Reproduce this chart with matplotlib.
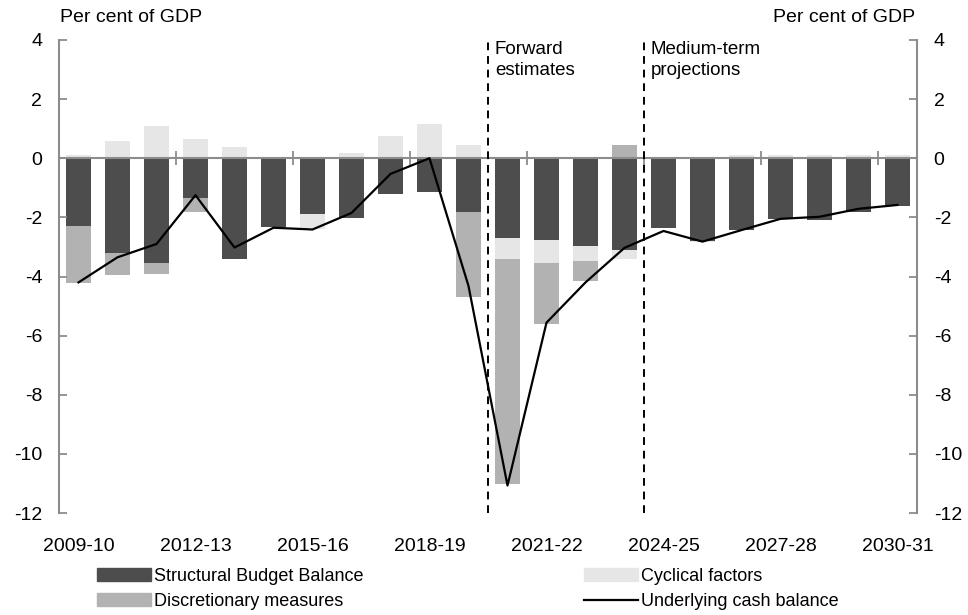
import numpy as np
import matplotlib
matplotlib.use('Agg')
import matplotlib.pyplot as plt
from matplotlib.patches import Patch
from matplotlib.lines import Line2D

plt.rcParams['font.family'] = ['Liberation Sans', 'DejaVu Sans']
plt.rcParams['axes.unicode_minus'] = False

years = ['2009-10', '2010-11', '2011-12', '2012-13', '2013-14', '2014-15', '2015-16',
         '2016-17', '2017-18', '2018-19', '2019-20', '2020-21', '2021-22', '2022-23',
         '2023-24', '2024-25', '2025-26', '2026-27', '2027-28', '2028-29', '2029-30',
         '2030-31']
structural = [-2.30, -3.20, -3.56, -1.34, -3.42, -2.31, -1.89, -2.02, -1.20, -1.14, -1.82,
              -2.70, -2.78, -2.98, -3.12, -2.35, -2.79, -2.43, -2.07, -2.09, -1.81, -1.60]
cyclical = [0.11, 0.59, 1.08, 0.66, 0.39, 0.02, -0.50, 0.19, 0.74, 1.15, 0.45,
            -0.71, -0.77, -0.50, -0.28, 0.00, -0.04, 0.10, 0.10, 0.10, 0.10, 0.10]
discretionary = [-1.93, -0.75, -0.34, -0.49, 0.0, 0.0, 0.0, 0.0, 0.0, 0.0, -2.89,
                 -7.62, -2.04, -0.68, 0.45, 0.0, 0.0, 0.0, 0.0, 0.0, 0.0, 0.0]
underlying = [-4.20, -3.35, -2.90, -1.25, -3.02, -2.35, -2.41, -1.85, -0.53, 0.00, -4.32,
              -11.07, -5.56, -4.20, -3.03, -2.46, -2.82, -2.43, -2.05, -1.98, -1.71, -1.58]

c_struct = '#4d4d4d'
c_disc = '#b2b2b2'
c_cyc = '#e6e6e6'
grey = '#8c8c8c'

fig = plt.figure(figsize=(9.68, 6.15), dpi=100)
ax = fig.add_axes([59 / 968, 1 - 513 / 615, (917 - 59) / 968, (513 - 40) / 615])

x = np.arange(len(years))
w = 0.66
pos_base = np.zeros(len(years))
neg_base = np.zeros(len(years))
# stack like Excel: positives upward, negatives downward, in series order
for vals, col in [(structural, c_struct), (cyclical, c_cyc), (discretionary, c_disc)]:
    v = np.array(vals)
    p = np.where(v > 0, v, 0)
    n = np.where(v < 0, v, 0)
    ax.bar(x, p, w, bottom=pos_base, color=col, linewidth=0, zorder=1)
    ax.bar(x, n, w, bottom=neg_base, color=col, linewidth=0, zorder=1)
    pos_base += p
    neg_base += n

ax.plot(x, underlying, color='black', lw=1.6, zorder=3)

ax.set_xlim(-0.5, len(years) - 0.5)
ax.set_ylim(-12, 4)

# phase separators
for xs in [10.5, 14.5]:
    ax.axvline(xs, color='black', lw=1.4, ls=(0, (4, 3)), zorder=4)
ax.annotate('Forward\nestimates', (10.5, 4), xytext=(5, -1), textcoords='offset points',
            ha='left', va='top', fontsize=13.5, linespacing=1.25)
ax.annotate('Medium-term\nprojections', (14.5, 4), xytext=(5, -1), textcoords='offset points',
            ha='left', va='top', fontsize=13.5, linespacing=1.25)

# y axes on both sides
ax.spines['top'].set_visible(False)
for s in ['left', 'right', 'bottom']:
    ax.spines[s].set_color(grey)
    ax.spines[s].set_linewidth(1.5)
ax.set_yticks(np.arange(-12, 5, 2))
ax.tick_params(axis='y', which='both', left=True, right=True, labelleft=True,
               labelright=True, direction='in', length=6, width=1.3, color=grey,
               labelsize=14, pad=12)

# zero line with category-boundary ticks
ax.spines['bottom'].set_position(('data', 0))
ax.spines['bottom'].set_zorder(2.5)
ax.set_xticks(np.arange(2.5, len(years) - 1, 3))
ax.tick_params(axis='x', direction='inout', length=10, width=1.3, color=grey,
               labelbottom=False)

sec = ax.secondary_xaxis('bottom')
sec.set_xticks(x[::3], labels=years[::3])
sec.spines['bottom'].set_visible(False)
sec.tick_params(length=0, labelsize=14, pad=18)

fig.text(60 / 968, 1 - 18 / 615, 'Per cent of GDP', ha='left', va='center', fontsize=14)
fig.text(915 / 968, 1 - 18 / 615, 'Per cent of GDP', ha='right', va='center', fontsize=14)

handles = [Patch(color=c_struct), Patch(color=c_disc), Patch(color=c_cyc),
           Line2D([], [], color='black', lw=1.6)]
labels = ['Structural Budget Balance', 'Discretionary measures', 'Cyclical factors',
          'Underlying cash balance']
fig.legend(handles, labels, ncol=2, loc='upper left',
           bbox_to_anchor=(97 / 968, 1 - 568 / 615), frameon=False, fontsize=13,
           borderpad=0, borderaxespad=0, handlelength=3.0, handleheight=0.7,
           handletextpad=0.15, columnspacing=12.2, labelspacing=0.45)

fig.savefig('out.png', dpi=100)
